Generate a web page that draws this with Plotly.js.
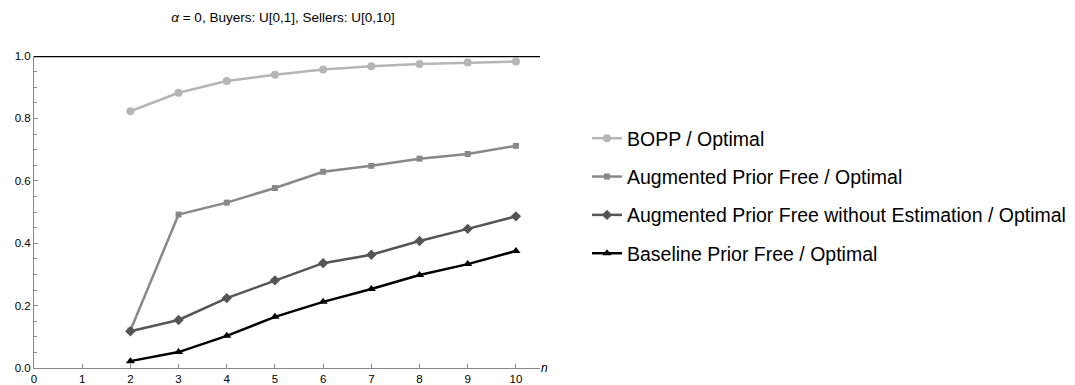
<!DOCTYPE html>
<html><head><meta charset="utf-8">
<script src="https://cdn.plot.ly/plotly-3.0.1.min.js"></script>
<style>body{margin:0;background:#fff}#c{width:1075px;height:385px}</style>
</head><body><div id="c"></div>
<script>
const nValues = [2,3,4,5,6,7,8,9,10];
const boppRatio = [0.823,0.882,0.920,0.940,0.957,0.967,0.974,0.979,0.982];
const augmentedRatio = [0.120,0.492,0.530,0.577,0.629,0.648,0.671,0.686,0.712];
const augmentedNoEstRatio = [0.118,0.154,0.224,0.281,0.336,0.363,0.407,0.446,0.486];
const baselineRatio = [0.022,0.051,0.103,0.164,0.212,0.253,0.298,0.333,0.375];
const seriesNames = ["BOPP / Optimal","Augmented Prior Free / Optimal","Augmented Prior Free without Estimation / Optimal","Baseline Prior Free / Optimal"];
const xTicks = [0,1,2,3,4,5,6,7,8,9,10];
const yTicks = [0,0.2,0.4,0.6,0.8,1.0];
const yTickText = ["0.0","0.2","0.4","0.6","0.8","1.0"];

const styles = [
  {color:"#b5b5b5", symbol:"circle", size:8},
  {color:"#888888", symbol:"square", size:6},
  {color:"#555555", symbol:"diamond", size:8},
  {color:"#000000", symbol:"triangle-up", size:8}
];
const ys = [boppRatio, augmentedRatio, augmentedNoEstRatio, baselineRatio];
const traces = ys.map((y,i)=>({
  x:nValues, y:y, name:seriesNames[i], type:"scatter", mode:"lines+markers",
  legendgroup:"g"+i,
  line:{color:styles[i].color, width:2.5},
  marker:{color:styles[i].color, symbol:styles[i].symbol, size:styles[i].size}
}));

const layout = {
  width:1075, height:385,
  margin:{l:34, r:535, t:56, b:17},
  paper_bgcolor:"#fff", plot_bgcolor:"#fff",
  font:{family:"Liberation Sans, Arial, sans-serif", color:"#000", size:11},
  title:{text:"<i>α</i> = 0, Buyers: U[0,1], Sellers: U[0,10]", x:283/1075, xanchor:"center", y:1-17/385, yanchor:"middle", font:{size:13.5, color:"#000"}},
  xaxis:{range:[0,10.5], tickvals:xTicks, ticks:"inside", ticklen:4, tickcolor:"#888", showgrid:false, zeroline:false,
         showline:true, linecolor:"#888", linewidth:1, tickfont:{size:11.5}},
  yaxis:{range:[0,1.0], tickvals:yTicks, ticktext:yTickText, ticks:"inside", ticklen:4, tickcolor:"#888", showgrid:false, zeroline:false,
         showline:true, linecolor:"#888", linewidth:1, tickfont:{size:11.5},
         minor:{dtick:0.05, ticks:"inside", ticklen:2.5, tickcolor:"#888"}},
  shapes:[{type:"line", xref:"paper", yref:"y", x0:0, x1:1, y0:1, y1:1, line:{color:"#000", width:2.5}}],
  annotations:[{text:"<i>n</i>", xref:"paper", yref:"paper", x:1.0, y:0, xanchor:"left", yanchor:"middle", xshift:-1, showarrow:false, font:{size:12}}],
  legend:{xref:"container", yref:"container", x:587/1075, y:1-119/385, xanchor:"left", yanchor:"top",
          font:{size:19.5, color:"#000"}, tracegroupgap:10, traceorder:"grouped", bgcolor:"rgba(0,0,0,0)"},
  showlegend:true
};
Plotly.newPlot("c", traces, layout, {displayModeBar:false, staticPlot:true});
</script></body></html>
